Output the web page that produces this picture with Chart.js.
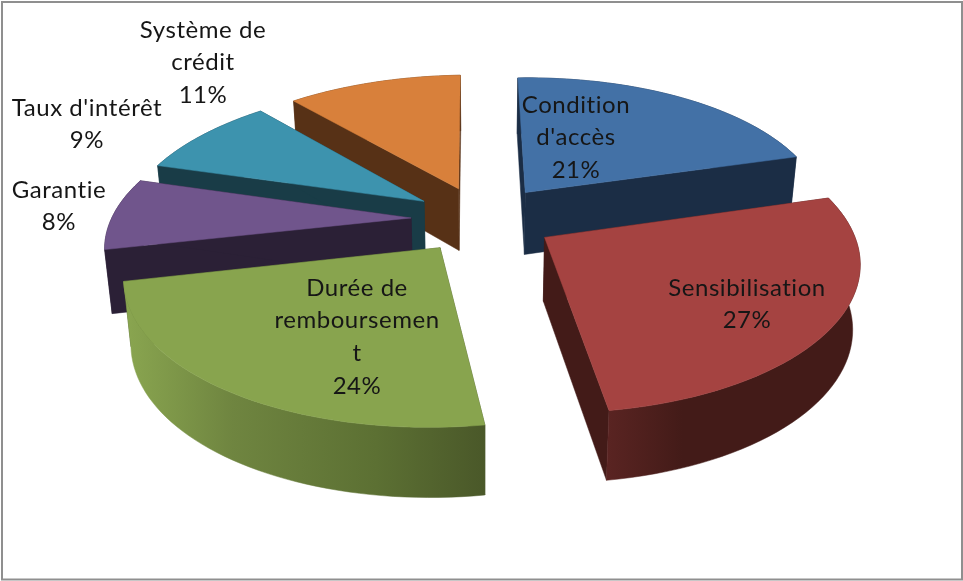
<!DOCTYPE html>
<html>
<head>
<meta charset="utf-8">
<script src="https://cdn.jsdelivr.net/npm/chart.js@4/dist/chart.umd.js"></script>
<style>
html,body{margin:0;padding:0;background:#fff;}
#wrap{width:963px;height:581px;position:relative;}
canvas{filter:blur(0.45px);}
</style>
</head>
<body>
<div id="wrap"><canvas id="c" width="963" height="581"></canvas></div>
<script>
// ---- data ----
const categories = ["Condition d'accès","Sensibilisation","Durée de remboursement","Garantie","Taux d'intérêt","Système de crédit"];
const categoryLines = [["Condition","d'accès"],["Sensibilisation"],["Durée de","remboursemen","t"],["Garantie"],["Taux d'intérêt"],["Système de","crédit"]];
const values = [21,27,24,8,9,11];

// ---- styles ----
const topColors  = ["#4371a6","#a54341","#88a44e","#70558c","#3d93ae","#d8803b"];
const faceColors = ["#1b2d45","#431b18","#46552a","#2b2036","#193c47","#573116"];
const wallStops  = [
  [[0,"#1b2d45"],[1,"#1b2d45"]],
  [[0,"#5a2422"],[0.3,"#431b18"],[1,"#431b18"]],
  [[0,"#8aa650"],[0.3,"#6f8540"],[0.7,"#5c7033"],[1,"#4a5829"]],
  [[0,"#2b2036"],[1,"#2b2036"]],
  [[0,"#193c47"],[1,"#193c47"]],
  [[0,"#573116"],[1,"#573116"]]
];
const paintOrder = [5,0,4,3,1,2];
const labelCentres = [[576,105],[747,288],[357,288],[59,190],[87,108],[203,30]];
const labelFont = '24px Lato';
const labelSpacing = '0.55px';
const lineStep = 32.6;

// projection of the pie plane onto the tilted view
const view = {cx:483, cy:219, ax:302, bx:-4, curve:1.2, ay:-4.5, by:-140.7, persp:0.16,
              bottomScale:0.98, depthBase:63, depthSlope:-6};
function project(u,v){
  const w = 1 + view.persp*v;
  return {x:view.cx + view.curve*v*v + (view.ax*u + view.bx*v)/w, y:view.cy + (view.ay*u + view.by*v)/w};
}
function projectBottom(u,v){
  const p = project(u,v);
  return {x:view.cx + (p.x-view.cx)*view.bottomScale, y:p.y + view.depthBase + view.depthSlope*v};
}

const pie3d = {
  id:'pie3d',
  beforeDraw(chart){
    const ctx = chart.ctx;
    ctx.save();
    ctx.fillStyle='#fff';
    ctx.fillRect(0,0,chart.width,chart.height);
    ctx.strokeStyle='#8f8f8f';
    ctx.lineWidth=2;
    ctx.strokeRect(2,2,960,577.5);
    ctx.restore();
  },
  beforeDatasetDraw(chart){
    const ctx = chart.ctx, arcs = chart.getDatasetMeta(0).data;
    paintOrder.forEach(i=>{
      const a = arcs[i], R = a.outerRadius, e = (a.options.offset||0)/R;
      const mid = (a.startAngle+a.endAngle)/2;
      const ax = e*Math.cos(mid), ay = -e*Math.sin(mid);
      const rim = [];
      const steps = 48;
      for(let k=0;k<=steps;k++){
        const t = a.startAngle + (a.endAngle-a.startAngle)*k/steps;
        rim.push([ax+Math.cos(t), ay-Math.sin(t)]);
      }
      const poly = (pts,fill)=>{
        ctx.beginPath();
        pts.forEach((p,n)=> n?ctx.lineTo(p.x,p.y):ctx.moveTo(p.x,p.y));
        ctx.closePath();
        ctx.fillStyle=fill; ctx.fill();
        ctx.strokeStyle=fill; ctx.lineWidth=0.5; ctx.stroke();
      };
      const T = rim.map(r=>project(r[0],r[1]));
      const B = rim.map(r=>projectBottom(r[0],r[1]));
      const aT = project(ax,ay), aB = projectBottom(ax,ay);
      // radial cut faces
      poly([aT,T[0],B[0],aB],faceColors[i]);
      poly([aT,T[steps],B[steps],aB],faceColors[i]);
      // outer wall
      const xs = T.concat(B).map(p=>p.x);
      const g = ctx.createLinearGradient(Math.min(...xs),0,Math.max(...xs),0);
      wallStops[i].forEach(s=>g.addColorStop(s[0],s[1]));
      poly(T.concat(B.slice().reverse()),g);
      // top
      poly([aT].concat(T),a.options.backgroundColor);
    });
    return false;
  },
  afterDatasetsDraw(chart){
    const ctx = chart.ctx;
    ctx.save();
    ctx.font = labelFont;
    ctx.letterSpacing = labelSpacing;
    ctx.fillStyle = '#161616';
    ctx.textAlign='center';
    ctx.textBaseline='middle';
    const total = values.reduce((s,v)=>s+v,0);
    categoryLines.forEach((lines,i)=>{
      const all = lines.concat([Math.round(values[i]/total*100)+'%']);
      all.forEach((t,n)=> ctx.fillText(t,labelCentres[i][0],labelCentres[i][1]+n*lineStep));
    });
    ctx.restore();
  }
};

new Chart(document.getElementById('c'),{
  type:'pie',
  data:{labels:categories,datasets:[{data:values,backgroundColor:topColors,borderWidth:0,offset:62,hoverOffset:0}]},
  options:{
    responsive:false,animation:false,
    layout:{padding:0},
    plugins:{legend:{display:false},tooltip:{enabled:false},title:{display:false}},
    events:[]
  },
  plugins:[pie3d]
});
</script>
</body>
</html>
